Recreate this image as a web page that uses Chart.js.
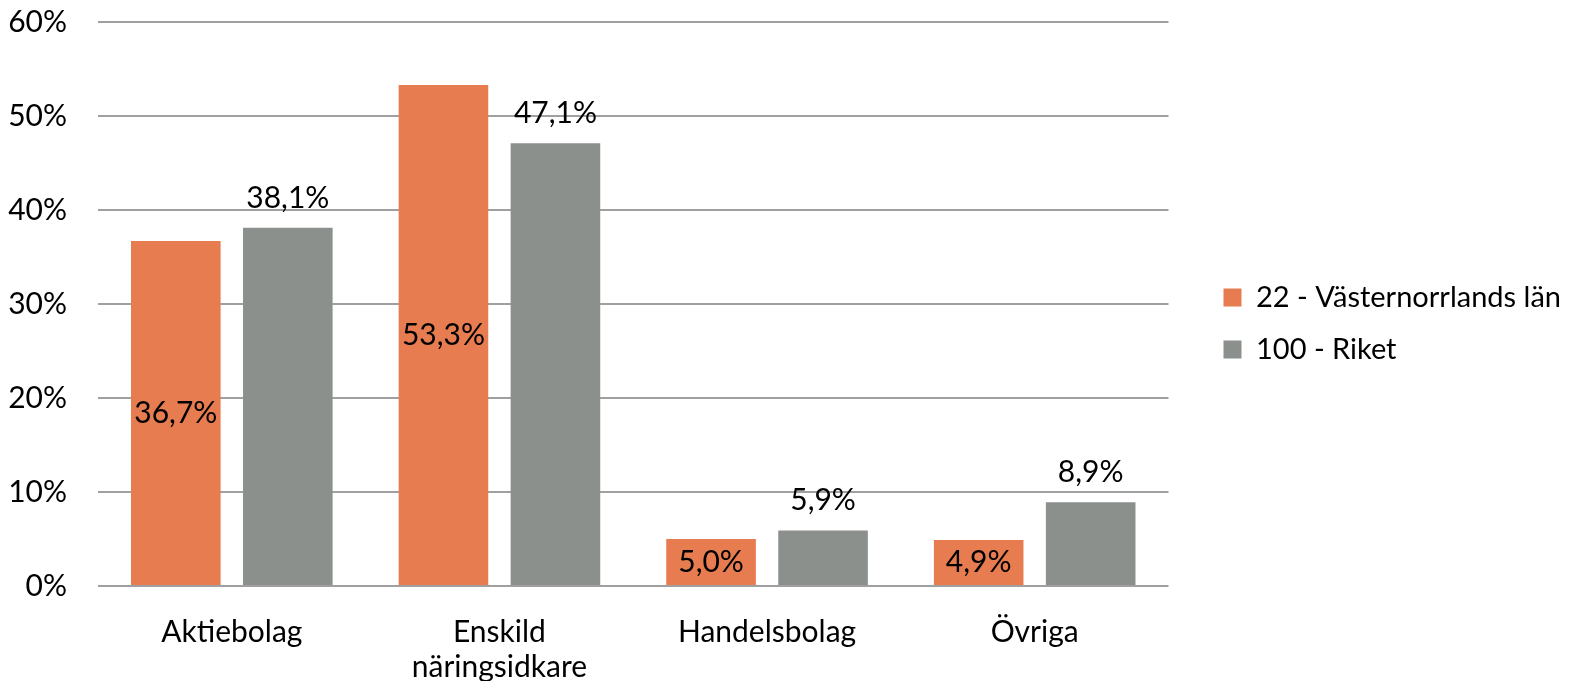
<!DOCTYPE html>
<html>
<head>
<meta charset="utf-8">
<script src="https://cdn.jsdelivr.net/npm/chart.js@4"></script>
<style>
  body { margin: 0; background: #fff; }
  #wrap { width: 1571px; height: 681px; }
</style>
</head>
<body>
<div id="wrap"><canvas id="chart"></canvas></div>
<script>
const categories = ['Aktiebolag', ['Enskild', 'näringsidkare'], 'Handelsbolag', 'Övriga'];
const seriesNames = ['22 - Västernorrlands län', '100 - Riket'];
const lanValues = [36.7, 53.3, 5.0, 4.9];
const riketValues = [38.1, 47.1, 5.9, 8.9];
const yTicks = [0, 10, 20, 30, 40, 50, 60];

const FONT = 'Lato, "Open Sans", sans-serif';

// values written with comma as decimal separator
function fmt(v) {
    return v.toFixed(1).replace('.', ',') + '%';
}

const barLabels = {
    id: 'barLabels',
    afterDatasetsDraw(chart) {
        const ctx = chart.ctx;
        ctx.save();
        ctx.font = '30px ' + FONT;
        ctx.fillStyle = '#000';
        ctx.textAlign = 'center';
        ctx.textBaseline = 'middle';
        chart.data.datasets.forEach(function(ds, i) {
            const meta = chart.getDatasetMeta(i);
            meta.data.forEach(function(bar, j) {
                const txt = fmt(ds.data[j]);
                if (i === 0) {
                    ctx.fillText(txt, bar.x, (bar.y + bar.base) / 2);
                } else {
                    ctx.fillText(txt, bar.x, bar.y - 30);
                }
            });
        });
        ctx.restore();
    }
};

// extra space between plot and legend, and legend lifted a bit
const LEGEND_GAP = 32;
const LEGEND_LIFT = 17;
const legendGap = {
    id: 'legendGap',
    afterInit(chart) {
        const legend = chart.legend;
        const fit = legend.fit;
        legend.fit = function() {
            fit.call(this);
            this.width += LEGEND_GAP;
        };
    },
    afterLayout(chart) {
        chart.legend.left += LEGEND_GAP;
        chart.legend.top -= LEGEND_LIFT;
        chart.legend.bottom -= LEGEND_LIFT;
    }
};

new Chart(document.getElementById('chart').getContext('2d'), {
    type: 'bar',
    data: {
        labels: categories,
        datasets: [{
            label: seriesNames[0],
            data: lanValues,
            backgroundColor: '#E67C4F'
        }, {
            label: seriesNames[1],
            data: riketValues,
            backgroundColor: '#8B908D'
        }]
    },
    options: {
        responsive: true,
        maintainAspectRatio: false,
        animation: false,
        categoryPercentage: 0.837,
        barPercentage: 0.8,
        layout: { padding: 0 },
        plugins: {
            legend: {
                position: 'right',
                labels: {
                    font: { family: FONT, size: 29 },
                    color: '#000',
                    boxWidth: 18,
                    boxHeight: 18,
                    padding: 23
                }
            },
            tooltip: { enabled: false }
        },
        scales: {
            x: {
                grid: { display: false },
                border: { display: false },
                ticks: {
                    font: { family: FONT, size: 30, lineHeight: 1.17 },
                    color: '#000',
                    padding: 21,
                    maxRotation: 0
                },
                afterFit: function(axis) { axis.height = 95; }
            },
            y: {
                min: 0,
                max: 60,
                afterBuildTicks: function(axis) {
                    axis.ticks = yTicks.map(v => ({ value: v }));
                },
                grid: { color: '#A0A0A0', lineWidth: 2, drawTicks: false },
                border: { display: false },
                ticks: {
                    font: { family: FONT, size: 30 },
                    color: '#000',
                    padding: 31,
                    callback: v => v + '%'
                },
                afterFit: function(axis) {
                    axis.width = 98;
                    axis.paddingTop = 22;
                }
            }
        }
    },
    plugins: [barLabels, legendGap]
});
</script>
</body>
</html>
